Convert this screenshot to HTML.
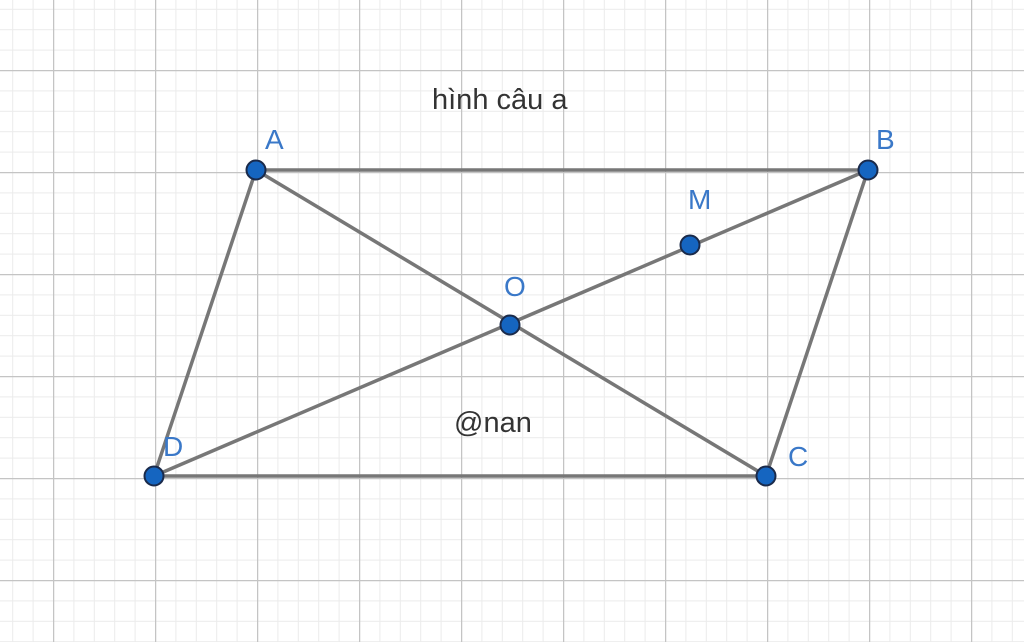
<!DOCTYPE html>
<html><head><style>body{margin:0;background:#fff}svg{display:block}</style></head><body>
<svg width="1024" height="642" xmlns="http://www.w3.org/2000/svg">
<defs>
<pattern id="mi" x="12.2" y="8.8" width="20.4" height="20.4" patternUnits="userSpaceOnUse">
<path d="M0 0H20.4M0 0V20.4" stroke="#ebebeb" stroke-width="2" fill="none"/>
</pattern>
<pattern id="ma" x="53" y="70" width="102" height="102" patternUnits="userSpaceOnUse">
<path d="M0 0H102M0 0V102" stroke="#c4c4c4" stroke-width="2.5" fill="none"/>
</pattern>
</defs>
<rect width="1024" height="642" fill="url(#mi)"/>
<rect width="1024" height="642" fill="url(#ma)"/>
<g stroke="#777" stroke-width="3.5" fill="none" stroke-linecap="round">
<path d="M256 170H868L766 476H154Z"/>
<path d="M256 170L766 476M154 476L868 170"/>
</g>
<g fill="#1565c0" stroke="#1a2a4a" stroke-width="2">
<circle cx="256" cy="170" r="9.5"/><circle cx="868" cy="170" r="9.5"/>
<circle cx="766" cy="476" r="9.5"/><circle cx="154" cy="476" r="9.5"/>
<circle cx="510" cy="325" r="9.5"/><circle cx="690" cy="245" r="9.5"/>
</g>
<g font-family="Liberation Sans, sans-serif" font-size="28" fill="#3a78c8">
<text x="265" y="149">A</text><text x="876" y="149">B</text>
<text x="788" y="466">C</text><text x="163" y="456">D</text>
<text x="504" y="296">O</text><text x="688" y="209">M</text>
</g>
<g font-family="Liberation Sans, sans-serif" font-size="29" fill="#333">
<text x="432" y="109">hình câu a</text>
<text x="454" y="432">@nan</text>
</g>
</svg>
</body></html>
